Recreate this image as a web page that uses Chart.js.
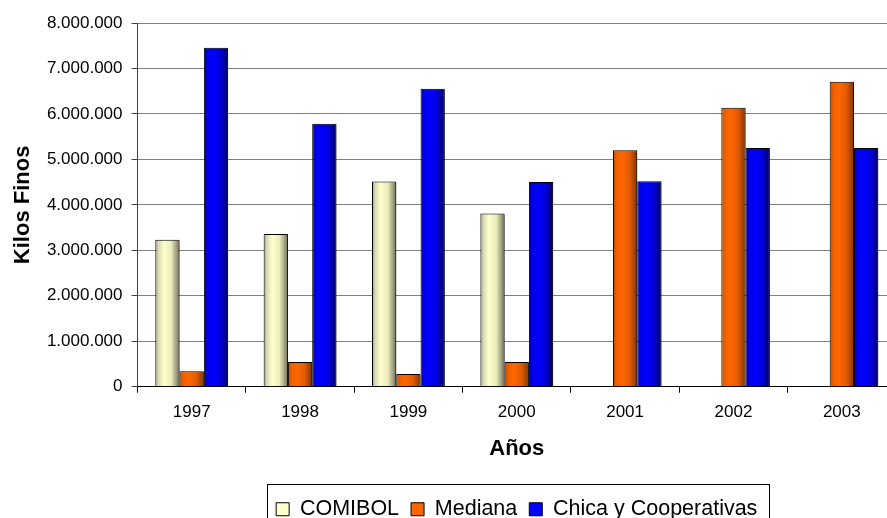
<!DOCTYPE html>
<html>
<head>
<meta charset="utf-8">
<script src="https://cdn.jsdelivr.net/npm/chart.js@4.4.1/dist/chart.umd.min.js"></script>
<style>
  html, body { margin: 0; padding: 0; background: #fff; overflow: hidden; }
  #wrap { width: 905px; height: 530px; position: relative; }
</style>
</head>
<body>
<div id="wrap"><canvas id="chart"></canvas></div>
<script>
// producción por sector, kilos finos
const years = ['1997', '1998', '1999', '2000', '2001', '2002', '2003'];
const comibol = [3230000, 3360000, 4515000, 3810000, null, null, null];
const mediana = [338000, 546000, 280000, 546000, 5200000, 6137000, 6710000];
const chica = [7454000, 5783000, 6556000, 4500000, 4520000, 5250000, 5250000];
const seriesNames = ['COMIBOL', 'Mediana', 'Chica y Cooperativas'];
const yMax = 8000000;
const yStep = 1000000;

const FONT = "'Liberation Sans', Arial, sans-serif";
const GROUP_PCT = 0.672;

function miles(v) {
  return String(v).replace(/\B(?=(\d{3})+(?!\d))/g, '.');
}

// sombreado horizontal tipo cilindro para cada barra
function barShade(flat, stops) {
  return function (ctx) {
    if (ctx.type !== 'data') return flat;
    const chart = ctx.chart;
    const xs = chart.scales.x;
    if (!xs || !xs.width) return flat;
    const catW = xs.width / years.length;
    const barW = catW * GROUP_PCT / 3;
    const cx = xs.getPixelForValue(ctx.dataIndex) + (ctx.datasetIndex - 1) * barW;
    const g = chart.ctx.createLinearGradient(cx - barW / 2, 0, cx + barW / 2, 0);
    stops.forEach(s => g.addColorStop(s[0], s[1]));
    return g;
  };
}

const flatColors = ['#FFFFCC', '#FF6600', '#0000FF'];
const shades = [
  [[0, '#8f8f74'], [0.12, '#d8d8b0'], [0.35, '#ffffcc'], [0.65, '#ececbc'], [1, '#70705a']],
  [[0, '#c04c00'], [0.15, '#f06000'], [0.4, '#ff6600'], [0.7, '#e05a00'], [1, '#803300']],
  [[0, '#0000b0'], [0.15, '#0000e8'], [0.4, '#0000ff'], [0.7, '#0000d8'], [1, '#000060']]
];

// sombra gris a la derecha de las barras
const barShadow = {
  id: 'barShadow',
  beforeDatasetsDraw(chart) {
    const c = chart.ctx;
    c.save();
    c.shadowColor = 'rgba(0,0,0,0.35)';
    c.shadowOffsetX = 2;
    c.shadowOffsetY = 1;
    c.shadowBlur = 0;
  },
  afterDatasetsDraw(chart) {
    chart.ctx.restore();
  }
};

// marco de la leyenda
const legendFrame = {
  id: 'legendFrame',
  afterDraw(chart) {
    const lg = chart.legend;
    if (!lg || !lg.legendHitBoxes || !lg.legendHitBoxes.length) return;
    const hb = lg.legendHitBoxes;
    const first = hb[0];
    const last = hb[hb.length - 1];
    const left = first.left - 9;
    const right = last.left + last.width + 12;
    const cy = first.top + first.height / 2;
    const c = chart.ctx;
    c.save();
    c.strokeStyle = '#000';
    c.lineWidth = 1;
    c.strokeRect(Math.round(left) + 0.5, Math.round(cy - 25) + 0.5, Math.round(right - left), 48);
    c.restore();
  }
};

const ctx = document.getElementById('chart').getContext('2d');

new Chart(ctx, {
  type: 'bar',
  data: {
    labels: years,
    datasets: [comibol, mediana, chica].map((d, i) => ({
      label: seriesNames[i],
      data: d,
      backgroundColor: barShade(flatColors[i], shades[i]),
      borderColor: '#000',
      borderWidth: 1,
      barPercentage: 1,
      categoryPercentage: GROUP_PCT
    }))
  },
  options: {
    responsive: true,
    maintainAspectRatio: false,
    animation: false,
    layout: { padding: { top: 23, right: 9, left: 10, bottom: 0 } },
    plugins: {
      tooltip: { enabled: false },
      legend: {
        position: 'bottom',
        fullSize: false,
        labels: {
          font: { family: FONT, size: 21.5 },
          color: '#000',
          boxWidth: 13,
          boxHeight: 13,
          padding: 12,
          generateLabels(chart) {
            return chart.data.datasets.map((ds, i) => ({
              text: ds.label,
              fillStyle: flatColors[i],
              strokeStyle: '#000',
              lineWidth: 1,
              datasetIndex: i,
              fontColor: '#000'
            }));
          }
        }
      }
    },
    scales: {
      x: {
        offset: true,
        grid: {
          offset: true,
          drawOnChartArea: false,
          drawTicks: true,
          tickLength: 6,
          color: '#000'
        },
        border: { color: '#000', width: 1 },
        ticks: {
          font: { family: FONT, size: 17 },
          color: '#000',
          padding: 9,
          maxRotation: 0
        },
        title: {
          display: true,
          text: 'Años',
          font: { family: FONT, size: 22, weight: 'bold' },
          color: '#000',
          padding: { top: 5, bottom: 24 }
        }
      },
      y: {
        min: 0,
        max: yMax,
        grid: {
          color: (c) => c.tick && c.tick.value === 0 ? '#000' : '#808080',
          tickLength: 6,
          tickColor: '#404040'
        },
        border: { color: '#404040', width: 1 },
        ticks: {
          stepSize: yStep,
          font: { family: FONT, size: 17 },
          color: '#000',
          padding: 9,
          callback: (v) => miles(v)
        },
        title: {
          display: true,
          text: 'Kilos Finos',
          font: { family: FONT, size: 22, weight: 'bold' },
          color: '#000',
          padding: { top: 0, bottom: 1.5 }
        }
      }
    }
  },
  plugins: [barShadow, legendFrame]
});
</script>
</body>
</html>
